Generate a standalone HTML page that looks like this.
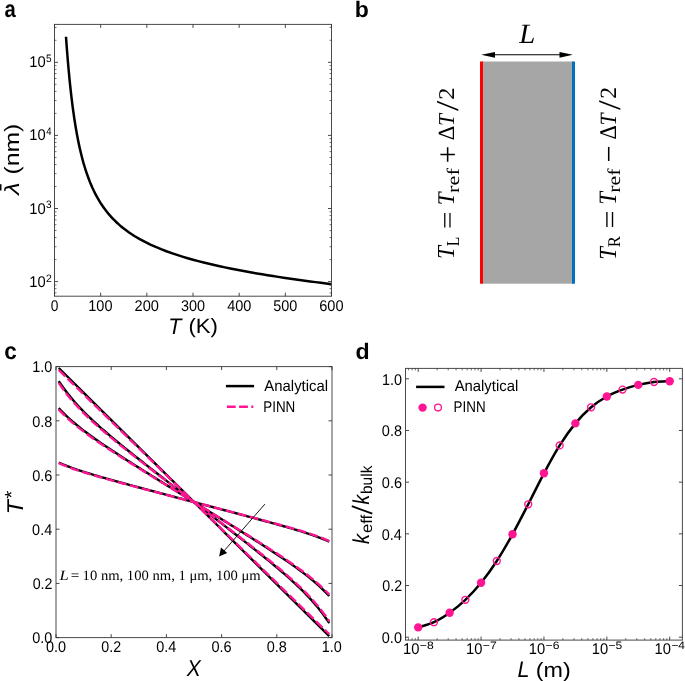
<!DOCTYPE html><html><head><meta charset="utf-8"><style>html,body{margin:0;padding:0;background:#fff}svg{display:block}</style></head><body>
<svg width="685" height="681" viewBox="0 0 685 681" style="text-rendering:geometricPrecision;will-change:transform">
<rect width="685" height="681" fill="#fff"/>
<path d="M66.00 36.73 L66.36 41.83 L66.73 46.77 L67.10 51.53 L67.46 56.13 L67.83 60.57 L68.20 64.85 L68.56 68.99 L68.93 72.98 L69.30 76.84 L69.66 80.57 L70.03 84.17 L70.40 87.65 L70.77 91.02 L71.13 94.27 L71.50 97.42 L71.87 100.47 L72.23 103.42 L72.60 106.28 L72.97 109.05 L74.27 118.23 L75.57 126.48 L76.87 133.95 L78.18 140.72 L79.48 146.91 L80.78 152.57 L82.08 157.77 L83.38 162.57 L84.69 167.01 L85.99 171.13 L87.29 174.96 L88.59 178.54 L89.89 181.89 L91.20 185.03 L92.50 187.98 L93.80 190.76 L95.10 193.38 L96.41 195.86 L97.71 198.21 L99.01 200.44 L100.31 202.55 L101.61 204.57 L102.92 206.49 L104.22 208.33 L105.52 210.08 L106.82 211.76 L108.12 213.36 L109.43 214.90 L110.73 216.38 L112.03 217.81 L113.33 219.18 L114.64 220.49 L115.94 221.76 L117.24 222.99 L118.54 224.18 L119.84 225.32 L121.15 226.43 L122.45 227.50 L123.75 228.54 L129.08 232.47 L134.40 235.97 L139.73 239.11 L145.06 241.96 L150.38 244.56 L155.71 246.95 L161.04 249.16 L166.37 251.21 L171.69 253.12 L177.02 254.91 L182.35 256.59 L187.67 258.18 L193.00 259.69 L198.33 261.12 L203.65 262.48 L208.98 263.78 L214.31 265.02 L219.63 266.21 L224.96 267.36 L230.29 268.46 L235.62 269.52 L240.94 270.54 L246.27 271.53 L251.60 272.49 L256.92 273.42 L262.25 274.32 L267.58 275.19 L272.90 276.04 L278.23 276.87 L283.56 277.68 L288.88 278.46 L294.21 279.23 L299.54 279.98 L304.87 280.71 L310.19 281.43 L315.52 282.13 L320.85 282.81 L326.17 283.49 L331.50 284.14" stroke="#000" stroke-width="2.5" fill="none" stroke-linejoin="round"/>
<rect x="54.50" y="24.40" width="277.00" height="271.80" fill="none" stroke="#4a4a4a" stroke-width="1.0"/>
<path d="M54.50 296.20v-3.5M54.50 24.40v3.5M100.67 296.20v-3.5M100.67 24.40v3.5M146.83 296.20v-3.5M146.83 24.40v3.5M193.00 296.20v-3.5M193.00 24.40v3.5M239.17 296.20v-3.5M239.17 24.40v3.5M285.33 296.20v-3.5M285.33 24.40v3.5M331.50 296.20v-3.5M331.50 24.40v3.5" stroke="#333" stroke-width="0.9" fill="none"/>
<path d="M54.50 281.60h3.5M331.50 281.60h-3.5M54.50 208.50h3.5M331.50 208.50h-3.5M54.50 135.40h3.5M331.50 135.40h-3.5M54.50 62.30h3.5M331.50 62.30h-3.5" stroke="#333" stroke-width="0.9" fill="none"/>
<path d="M54.50 292.92h2.0M331.50 292.92h-2.0M54.50 288.68h2.0M331.50 288.68h-2.0M54.50 284.94h2.0M331.50 284.94h-2.0M54.50 259.59h2.0M331.50 259.59h-2.0M54.50 246.72h2.0M331.50 246.72h-2.0M54.50 237.59h2.0M331.50 237.59h-2.0M54.50 230.51h2.0M331.50 230.51h-2.0M54.50 224.72h2.0M331.50 224.72h-2.0M54.50 219.82h2.0M331.50 219.82h-2.0M54.50 215.58h2.0M331.50 215.58h-2.0M54.50 211.84h2.0M331.50 211.84h-2.0M54.50 186.49h2.0M331.50 186.49h-2.0M54.50 173.62h2.0M331.50 173.62h-2.0M54.50 164.49h2.0M331.50 164.49h-2.0M54.50 157.41h2.0M331.50 157.41h-2.0M54.50 151.62h2.0M331.50 151.62h-2.0M54.50 146.72h2.0M331.50 146.72h-2.0M54.50 142.48h2.0M331.50 142.48h-2.0M54.50 138.74h2.0M331.50 138.74h-2.0M54.50 113.39h2.0M331.50 113.39h-2.0M54.50 100.52h2.0M331.50 100.52h-2.0M54.50 91.39h2.0M331.50 91.39h-2.0M54.50 84.31h2.0M331.50 84.31h-2.0M54.50 78.52h2.0M331.50 78.52h-2.0M54.50 73.62h2.0M331.50 73.62h-2.0M54.50 69.38h2.0M331.50 69.38h-2.0M54.50 65.64h2.0M331.50 65.64h-2.0M54.50 40.29h2.0M331.50 40.29h-2.0M54.50 27.42h2.0M331.50 27.42h-2.0" stroke="#333" stroke-width="0.7" fill="none"/>
<text x="50.67" y="310.50" style="font-family:'Liberation Sans', sans-serif;font-size:15.5px" fill="#000" textLength="7.65" lengthAdjust="spacingAndGlyphs">0</text>
<text x="88.32" y="310.50" style="font-family:'Liberation Sans', sans-serif;font-size:15.5px" fill="#000" textLength="24.17" lengthAdjust="spacingAndGlyphs">100</text>
<text x="134.60" y="310.50" style="font-family:'Liberation Sans', sans-serif;font-size:15.5px" fill="#000" textLength="24.30" lengthAdjust="spacingAndGlyphs">200</text>
<text x="180.97" y="310.50" style="font-family:'Liberation Sans', sans-serif;font-size:15.5px" fill="#000" textLength="24.07" lengthAdjust="spacingAndGlyphs">300</text>
<text x="227.19" y="310.50" style="font-family:'Liberation Sans', sans-serif;font-size:15.5px" fill="#000" textLength="24.19" lengthAdjust="spacingAndGlyphs">400</text>
<text x="273.28" y="310.50" style="font-family:'Liberation Sans', sans-serif;font-size:15.5px" fill="#000" textLength="24.08" lengthAdjust="spacingAndGlyphs">500</text>
<text x="319.25" y="310.50" style="font-family:'Liberation Sans', sans-serif;font-size:15.5px" fill="#000" textLength="24.33" lengthAdjust="spacingAndGlyphs">600</text>
<text x="29.19" y="286.60" style="font-family:'Liberation Sans', sans-serif;font-size:15.5px" fill="#000" textLength="16.39" lengthAdjust="spacingAndGlyphs">10</text>
<text x="45.97" y="281.50" style="font-family:'Liberation Sans', sans-serif;font-size:10.8px" fill="#000" textLength="5.87" lengthAdjust="spacingAndGlyphs">2</text>
<text x="29.19" y="213.50" style="font-family:'Liberation Sans', sans-serif;font-size:15.5px" fill="#000" textLength="16.39" lengthAdjust="spacingAndGlyphs">10</text>
<text x="46.12" y="208.40" style="font-family:'Liberation Sans', sans-serif;font-size:10.8px" fill="#000" textLength="5.62" lengthAdjust="spacingAndGlyphs">3</text>
<text x="29.19" y="140.40" style="font-family:'Liberation Sans', sans-serif;font-size:15.5px" fill="#000" textLength="16.39" lengthAdjust="spacingAndGlyphs">10</text>
<text x="46.29" y="135.30" style="font-family:'Liberation Sans', sans-serif;font-size:10.8px" fill="#000" textLength="5.29" lengthAdjust="spacingAndGlyphs">4</text>
<text x="29.19" y="67.30" style="font-family:'Liberation Sans', sans-serif;font-size:15.5px" fill="#000" textLength="16.39" lengthAdjust="spacingAndGlyphs">10</text>
<text x="46.10" y="62.20" style="font-family:'Liberation Sans', sans-serif;font-size:10.8px" fill="#000" textLength="5.62" lengthAdjust="spacingAndGlyphs">5</text>
<text x="168.36" y="333.60" style="font-family:'Liberation Sans', sans-serif;font-style:italic;font-size:22.4px" fill="#000" textLength="13.17" lengthAdjust="spacingAndGlyphs">T</text>
<text x="188.41" y="333.20" style="font-family:'Liberation Sans', sans-serif;font-size:20.8px" fill="#000" textLength="29.59" lengthAdjust="spacingAndGlyphs">(K)</text>
<text x="1.13" y="0.00" style="font-family:'Liberation Sans', sans-serif;font-style:italic;font-size:20.5px" fill="#000" textLength="12.34" lengthAdjust="spacingAndGlyphs" transform="translate(19.40,195.80) rotate(-90)">λ</text>
<text x="-1.54" y="0.00" style="font-family:'Liberation Sans', sans-serif;font-size:20.8px" fill="#000" textLength="50.79" lengthAdjust="spacingAndGlyphs" transform="translate(19.40,173.00) rotate(-90)">(nm)</text>
<rect x="0" y="184.2" width="1.5" height="6.3" fill="#000"/>
<rect x="481.5" y="61.5" width="92" height="222.2" fill="#A6A6A6"/>
<rect x="480" y="61.5" width="3" height="222.2" fill="#FF0000"/>
<rect x="572" y="61.5" width="3" height="222.2" fill="#0070C0"/>
<path d="M494.5 54.8H560" stroke="#000" stroke-width="1.1"/>
<path d="M481.2 54.8L495 51.9L495 57.7Z" fill="#000"/>
<path d="M572.8 54.8L559.5 51.9L559.5 57.7Z" fill="#000"/>
<text x="519.16" y="42.50" style="font-family:'Liberation Serif', serif;font-style:italic;font-size:28px" fill="#000" textLength="16.04" lengthAdjust="spacingAndGlyphs">L</text>
<text x="-1.51" y="0.00" style="font-family:'Liberation Serif', serif;font-style:italic;font-size:24.43px" fill="#000" textLength="12.94" lengthAdjust="spacingAndGlyphs" transform="translate(454.00,257.60) rotate(-90)">T</text>
<text x="-0.47" y="0.00" style="font-family:'Liberation Serif', serif;font-size:18.32px" fill="#000" textLength="9.52" lengthAdjust="spacingAndGlyphs" transform="translate(458.90,245.90) rotate(-90)">L</text>
<text x="-1.56" y="0.00" style="font-family:'Liberation Serif', serif;font-size:26.0px" fill="#000" textLength="17.59" lengthAdjust="spacingAndGlyphs" transform="translate(455.89,227.50) rotate(-90)">=</text>
<text x="-1.49" y="0.00" style="font-family:'Liberation Serif', serif;font-style:italic;font-size:23.97px" fill="#000" textLength="12.74" lengthAdjust="spacingAndGlyphs" transform="translate(453.90,203.70) rotate(-90)">T</text>
<text x="-0.45" y="0.00" style="font-family:'Liberation Serif', serif;font-size:17.62px" fill="#000" textLength="24.74" lengthAdjust="spacingAndGlyphs" transform="translate(458.92,192.50) rotate(-90)">ref</text>
<text x="-1.56" y="0.00" style="font-family:'Liberation Serif', serif;font-size:31.18px" fill="#000" textLength="17.59" lengthAdjust="spacingAndGlyphs" transform="translate(457.62,161.70) rotate(-90)">+</text>
<text x="-1.41" y="0.00" style="font-family:'Liberation Serif', serif;font-style:italic;font-size:22.75px" fill="#000" textLength="12.03" lengthAdjust="spacingAndGlyphs" transform="translate(453.70,124.60) rotate(-90)">T</text>
<text x="-0.85" y="0.00" style="font-family:'Liberation Serif', serif;font-size:23.18px" fill="#000" textLength="14.50" lengthAdjust="spacingAndGlyphs" transform="translate(453.70,139.50) rotate(-90)">Δ</text>
<text x="0.00" y="0.00" style="font-family:'Liberation Serif', serif;font-size:31.79px" fill="#000" textLength="10.31" lengthAdjust="spacingAndGlyphs" transform="translate(458.48,111.00) rotate(-90)">/</text>
<text x="-1.10" y="0.00" style="font-family:'Liberation Serif', serif;font-size:22.49px" fill="#000" textLength="12.25" lengthAdjust="spacingAndGlyphs" transform="translate(454.10,98.60) rotate(-90)">2</text>
<text x="-1.48" y="0.00" style="font-family:'Liberation Serif', serif;font-style:italic;font-size:24.58px" fill="#000" textLength="12.64" lengthAdjust="spacingAndGlyphs" transform="translate(615.60,258.40) rotate(-90)">T</text>
<text x="-0.50" y="0.00" style="font-family:'Liberation Serif', serif;font-size:17.86px" fill="#000" textLength="11.13" lengthAdjust="spacingAndGlyphs" transform="translate(620.20,246.70) rotate(-90)">R</text>
<text x="-1.59" y="0.00" style="font-family:'Liberation Serif', serif;font-size:28.0px" fill="#000" textLength="17.95" lengthAdjust="spacingAndGlyphs" transform="translate(618.61,226.90) rotate(-90)">=</text>
<text x="-1.49" y="0.00" style="font-family:'Liberation Serif', serif;font-style:italic;font-size:25.04px" fill="#000" textLength="12.74" lengthAdjust="spacingAndGlyphs" transform="translate(615.80,203.20) rotate(-90)">T</text>
<text x="-0.43" y="0.00" style="font-family:'Liberation Serif', serif;font-size:18.04px" fill="#000" textLength="24.13" lengthAdjust="spacingAndGlyphs" transform="translate(620.22,192.30) rotate(-90)">ref</text>
<text x="-1.52" y="0.00" style="font-family:'Liberation Serif', serif;font-size:31px" fill="#000" textLength="17.10" lengthAdjust="spacingAndGlyphs" transform="translate(619.31,160.90) rotate(-90)">−</text>
<text x="-1.41" y="0.00" style="font-family:'Liberation Serif', serif;font-style:italic;font-size:23.36px" fill="#000" textLength="12.03" lengthAdjust="spacingAndGlyphs" transform="translate(616.00,124.10) rotate(-90)">T</text>
<text x="-0.84" y="0.00" style="font-family:'Liberation Serif', serif;font-size:23.94px" fill="#000" textLength="14.39" lengthAdjust="spacingAndGlyphs" transform="translate(615.60,138.60) rotate(-90)">Δ</text>
<text x="0.00" y="0.00" style="font-family:'Liberation Serif', serif;font-size:31.64px" fill="#000" textLength="9.81" lengthAdjust="spacingAndGlyphs" transform="translate(619.88,110.10) rotate(-90)">/</text>
<text x="-1.06" y="0.00" style="font-family:'Liberation Serif', serif;font-size:23.25px" fill="#000" textLength="11.75" lengthAdjust="spacingAndGlyphs" transform="translate(615.60,97.80) rotate(-90)">2</text>
<clipPath id="cc"><rect x="56.0" y="363.6" width="276.0" height="277.0"/></clipPath>
<g clip-path="url(#cc)">
<path d="M58.76 367.98 L61.03 370.24 L63.31 372.49 L65.58 374.74 L67.85 377.00 L70.12 379.25 L72.40 381.51 L74.67 383.76 L76.94 386.01 L79.22 388.27 L81.49 390.52 L83.76 392.78 L86.04 395.03 L88.31 397.29 L90.58 399.54 L92.85 401.79 L95.13 404.05 L97.40 406.30 L99.67 408.56 L101.95 410.81 L104.22 413.06 L106.49 415.32 L108.76 417.57 L111.04 419.83 L113.31 422.08 L115.58 424.33 L117.86 426.59 L120.13 428.84 L122.40 431.10 L124.68 433.35 L126.95 435.60 L129.22 437.86 L131.49 440.11 L133.77 442.37 L136.04 444.62 L138.31 446.87 L140.59 449.13 L142.86 451.38 L145.13 453.64 L147.40 455.89 L149.68 458.15 L151.95 460.40 L154.22 462.65 L156.50 464.91 L158.77 467.16 L161.04 469.42 L163.32 471.67 L165.59 473.92 L167.86 476.18 L170.13 478.43 L172.41 480.69 L174.68 482.94 L176.95 485.19 L179.23 487.45 L181.50 489.70 L183.77 491.96 L186.04 494.21 L188.32 496.46 L190.59 498.72 L192.86 500.97 L195.14 503.23 L197.41 505.48 L199.68 507.74 L201.96 509.99 L204.23 512.24 L206.50 514.50 L208.77 516.75 L211.05 519.01 L213.32 521.26 L215.59 523.51 L217.87 525.77 L220.14 528.02 L222.41 530.28 L224.68 532.53 L226.96 534.78 L229.23 537.04 L231.50 539.29 L233.78 541.55 L236.05 543.80 L238.32 546.05 L240.60 548.31 L242.87 550.56 L245.14 552.82 L247.41 555.07 L249.69 557.33 L251.96 559.58 L254.23 561.83 L256.51 564.09 L258.78 566.34 L261.05 568.60 L263.32 570.85 L265.60 573.10 L267.87 575.36 L270.14 577.61 L272.42 579.87 L274.69 582.12 L276.96 584.37 L279.24 586.63 L281.51 588.88 L283.78 591.14 L286.05 593.39 L288.33 595.64 L290.60 597.90 L292.87 600.15 L295.15 602.41 L297.42 604.66 L299.69 606.91 L301.96 609.17 L304.24 611.42 L306.51 613.68 L308.78 615.93 L311.06 618.19 L313.33 620.44 L315.60 622.69 L317.88 624.95 L320.15 627.20 L322.42 629.46 L324.69 631.71 L326.97 633.96 L329.24 636.22" stroke="#000" stroke-width="2.4" fill="none" stroke-linejoin="round"/>
<path d="M58.76 381.12 L61.03 384.51 L63.31 387.74 L65.58 390.82 L67.85 393.78 L70.12 396.61 L72.40 399.34 L74.67 401.98 L76.94 404.53 L79.22 407.00 L81.49 409.40 L83.76 411.74 L86.04 414.02 L88.31 416.24 L90.58 418.43 L92.85 420.57 L95.13 422.67 L97.40 424.73 L99.67 426.77 L101.95 428.78 L104.22 430.76 L106.49 432.72 L108.76 434.66 L111.04 436.59 L113.31 438.49 L115.58 440.38 L117.86 442.26 L120.13 444.12 L122.40 445.98 L124.68 447.82 L126.95 449.66 L129.22 451.48 L131.49 453.30 L133.77 455.12 L136.04 456.92 L138.31 458.72 L140.59 460.52 L142.86 462.31 L145.13 464.10 L147.40 465.89 L149.68 467.67 L151.95 469.45 L154.22 471.23 L156.50 473.00 L158.77 474.77 L161.04 476.54 L163.32 478.31 L165.59 480.08 L167.86 481.84 L170.13 483.61 L172.41 485.37 L174.68 487.14 L176.95 488.90 L179.23 490.66 L181.50 492.42 L183.77 494.18 L186.04 495.94 L188.32 497.70 L190.59 499.46 L192.86 501.22 L195.14 502.98 L197.41 504.74 L199.68 506.50 L201.96 508.26 L204.23 510.02 L206.50 511.78 L208.77 513.54 L211.05 515.30 L213.32 517.06 L215.59 518.83 L217.87 520.59 L220.14 522.36 L222.41 524.12 L224.68 525.89 L226.96 527.66 L229.23 529.43 L231.50 531.20 L233.78 532.97 L236.05 534.75 L238.32 536.53 L240.60 538.31 L242.87 540.10 L245.14 541.89 L247.41 543.68 L249.69 545.48 L251.96 547.28 L254.23 549.08 L256.51 550.90 L258.78 552.72 L261.05 554.54 L263.32 556.38 L265.60 558.22 L267.87 560.08 L270.14 561.94 L272.42 563.82 L274.69 565.71 L276.96 567.61 L279.24 569.54 L281.51 571.48 L283.78 573.44 L286.05 575.42 L288.33 577.43 L290.60 579.47 L292.87 581.53 L295.15 583.63 L297.42 585.77 L299.69 587.96 L301.96 590.18 L304.24 592.46 L306.51 594.80 L308.78 597.20 L311.06 599.67 L313.33 602.22 L315.60 604.86 L317.88 607.59 L320.15 610.42 L322.42 613.38 L324.69 616.46 L326.97 619.69 L329.24 623.08" stroke="#000" stroke-width="2.4" fill="none" stroke-linejoin="round"/>
<path d="M58.76 408.16 L61.03 410.57 L63.31 412.88 L65.58 415.11 L67.85 417.25 L70.12 419.33 L72.40 421.33 L74.67 423.28 L76.94 425.18 L79.22 427.02 L81.49 428.83 L83.76 430.59 L86.04 432.32 L88.31 434.02 L90.58 435.69 L92.85 437.34 L95.13 438.96 L97.40 440.56 L99.67 442.14 L101.95 443.70 L104.22 445.25 L106.49 446.79 L108.76 448.31 L111.04 449.82 L113.31 451.32 L115.58 452.81 L117.86 454.29 L120.13 455.77 L122.40 457.24 L124.68 458.70 L126.95 460.15 L129.22 461.61 L131.49 463.05 L133.77 464.50 L136.04 465.94 L138.31 467.37 L140.59 468.81 L142.86 470.24 L145.13 471.67 L147.40 473.09 L149.68 474.52 L151.95 475.94 L154.22 477.36 L156.50 478.78 L158.77 480.20 L161.04 481.62 L163.32 483.03 L165.59 484.45 L167.86 485.86 L170.13 487.28 L172.41 488.69 L174.68 490.10 L176.95 491.52 L179.23 492.93 L181.50 494.34 L183.77 495.75 L186.04 497.16 L188.32 498.57 L190.59 499.98 L192.86 501.39 L195.14 502.81 L197.41 504.22 L199.68 505.63 L201.96 507.04 L204.23 508.45 L206.50 509.86 L208.77 511.27 L211.05 512.68 L213.32 514.10 L215.59 515.51 L217.87 516.92 L220.14 518.34 L222.41 519.75 L224.68 521.17 L226.96 522.58 L229.23 524.00 L231.50 525.42 L233.78 526.84 L236.05 528.26 L238.32 529.68 L240.60 531.11 L242.87 532.53 L245.14 533.96 L247.41 535.39 L249.69 536.83 L251.96 538.26 L254.23 539.70 L256.51 541.15 L258.78 542.59 L261.05 544.05 L263.32 545.50 L265.60 546.96 L267.87 548.43 L270.14 549.91 L272.42 551.39 L274.69 552.88 L276.96 554.38 L279.24 555.89 L281.51 557.41 L283.78 558.95 L286.05 560.50 L288.33 562.06 L290.60 563.64 L292.87 565.24 L295.15 566.86 L297.42 568.51 L299.69 570.18 L301.96 571.88 L304.24 573.61 L306.51 575.37 L308.78 577.18 L311.06 579.02 L313.33 580.92 L315.60 582.87 L317.88 584.87 L320.15 586.95 L322.42 589.09 L324.69 591.32 L326.97 593.63 L329.24 596.04" stroke="#000" stroke-width="2.4" fill="none" stroke-linejoin="round"/>
<path d="M58.76 462.49 L61.03 463.51 L63.31 464.48 L65.58 465.41 L67.85 466.31 L70.12 467.17 L72.40 468.01 L74.67 468.82 L76.94 469.60 L79.22 470.37 L81.49 471.11 L83.76 471.84 L86.04 472.56 L88.31 473.27 L90.58 473.96 L92.85 474.64 L95.13 475.32 L97.40 475.98 L99.67 476.64 L101.95 477.29 L104.22 477.94 L106.49 478.58 L108.76 479.22 L111.04 479.85 L113.31 480.49 L115.58 481.11 L117.86 481.74 L120.13 482.36 L122.40 482.98 L124.68 483.60 L126.95 484.21 L129.22 484.83 L131.49 485.44 L133.77 486.05 L136.04 486.67 L138.31 487.28 L140.59 487.89 L142.86 488.49 L145.13 489.10 L147.40 489.71 L149.68 490.32 L151.95 490.92 L154.22 491.53 L156.50 492.13 L158.77 492.74 L161.04 493.34 L163.32 493.95 L165.59 494.55 L167.86 495.16 L170.13 495.76 L172.41 496.37 L174.68 496.97 L176.95 497.57 L179.23 498.18 L181.50 498.78 L183.77 499.38 L186.04 499.99 L188.32 500.59 L190.59 501.19 L192.86 501.80 L195.14 502.40 L197.41 503.01 L199.68 503.61 L201.96 504.21 L204.23 504.82 L206.50 505.42 L208.77 506.02 L211.05 506.63 L213.32 507.23 L215.59 507.83 L217.87 508.44 L220.14 509.04 L222.41 509.65 L224.68 510.25 L226.96 510.86 L229.23 511.46 L231.50 512.07 L233.78 512.67 L236.05 513.28 L238.32 513.88 L240.60 514.49 L242.87 515.10 L245.14 515.71 L247.41 516.31 L249.69 516.92 L251.96 517.53 L254.23 518.15 L256.51 518.76 L258.78 519.37 L261.05 519.99 L263.32 520.60 L265.60 521.22 L267.87 521.84 L270.14 522.46 L272.42 523.09 L274.69 523.71 L276.96 524.35 L279.24 524.98 L281.51 525.62 L283.78 526.26 L286.05 526.91 L288.33 527.56 L290.60 528.22 L292.87 528.88 L295.15 529.56 L297.42 530.24 L299.69 530.93 L301.96 531.64 L304.24 532.36 L306.51 533.09 L308.78 533.83 L311.06 534.60 L313.33 535.38 L315.60 536.19 L317.88 537.03 L320.15 537.89 L322.42 538.79 L324.69 539.72 L326.97 540.69 L329.24 541.71" stroke="#000" stroke-width="2.4" fill="none" stroke-linejoin="round"/>
<path d="M58.76 369.99 L61.03 372.21 L63.31 374.43 L65.58 376.65 L67.85 378.87 L70.12 381.10 L72.40 383.32 L74.67 385.54 L76.94 387.76 L79.22 389.98 L81.49 392.20 L83.76 394.42 L86.04 396.64 L88.31 398.86 L90.58 401.08 L92.85 403.30 L95.13 405.52 L97.40 407.74 L99.67 409.96 L101.95 412.18 L104.22 414.40 L106.49 416.62 L108.76 418.84 L111.04 421.06 L113.31 423.28 L115.58 425.50 L117.86 427.72 L120.13 429.94 L122.40 432.16 L124.68 434.38 L126.95 436.60 L129.22 438.82 L131.49 441.04 L133.77 443.26 L136.04 445.48 L138.31 447.70 L140.59 449.92 L142.86 452.14 L145.13 454.36 L147.40 456.58 L149.68 458.80 L151.95 461.02 L154.22 463.25 L156.50 465.47 L158.77 467.69 L161.04 469.91 L163.32 472.13 L165.59 474.35 L167.86 476.57 L170.13 478.79 L172.41 481.01 L174.68 483.23 L176.95 485.45 L179.23 487.67 L181.50 489.89 L183.77 492.11 L186.04 494.33 L188.32 496.55 L190.59 498.77 L192.86 500.99 L195.14 503.21 L197.41 505.43 L199.68 507.65 L201.96 509.87 L204.23 512.09 L206.50 514.31 L208.77 516.53 L211.05 518.75 L213.32 520.97 L215.59 523.19 L217.87 525.41 L220.14 527.63 L222.41 529.85 L224.68 532.07 L226.96 534.29 L229.23 536.51 L231.50 538.73 L233.78 540.95 L236.05 543.18 L238.32 545.40 L240.60 547.62 L242.87 549.84 L245.14 552.06 L247.41 554.28 L249.69 556.50 L251.96 558.72 L254.23 560.94 L256.51 563.16 L258.78 565.38 L261.05 567.60 L263.32 569.82 L265.60 572.04 L267.87 574.26 L270.14 576.48 L272.42 578.70 L274.69 580.92 L276.96 583.14 L279.24 585.36 L281.51 587.58 L283.78 589.80 L286.05 592.02 L288.33 594.24 L290.60 596.46 L292.87 598.68 L295.15 600.90 L297.42 603.12 L299.69 605.34 L301.96 607.56 L304.24 609.78 L306.51 612.00 L308.78 614.22 L311.06 616.44 L313.33 618.66 L315.60 620.88 L317.88 623.10 L320.15 625.33 L322.42 627.55 L324.69 629.77 L326.97 631.99 L329.24 634.21" stroke="#FF1493" stroke-width="2.4" fill="none" stroke-dasharray="9.0 3.4" stroke-linejoin="round"/>
<path d="M58.76 382.93 L61.03 386.27 L63.31 389.45 L65.58 392.49 L67.85 395.40 L70.12 398.20 L72.40 400.89 L74.67 403.48 L76.94 405.99 L79.22 408.43 L81.49 410.79 L83.76 413.09 L86.04 415.34 L88.31 417.53 L90.58 419.68 L92.85 421.79 L95.13 423.86 L97.40 425.89 L99.67 427.90 L101.95 429.88 L104.22 431.83 L106.49 433.76 L108.76 435.68 L111.04 437.57 L113.31 439.45 L115.58 441.31 L117.86 443.16 L120.13 444.99 L122.40 446.82 L124.68 448.64 L126.95 450.44 L129.22 452.24 L131.49 454.03 L133.77 455.82 L136.04 457.60 L138.31 459.38 L140.59 461.14 L142.86 462.91 L145.13 464.67 L147.40 466.43 L149.68 468.19 L151.95 469.94 L154.22 471.69 L156.50 473.44 L158.77 475.18 L161.04 476.93 L163.32 478.67 L165.59 480.41 L167.86 482.15 L170.13 483.89 L172.41 485.62 L174.68 487.36 L176.95 489.10 L179.23 490.83 L181.50 492.57 L183.77 494.30 L186.04 496.03 L188.32 497.77 L190.59 499.50 L192.86 501.23 L195.14 502.97 L197.41 504.70 L199.68 506.43 L201.96 508.17 L204.23 509.90 L206.50 511.63 L208.77 513.37 L211.05 515.10 L213.32 516.84 L215.59 518.58 L217.87 520.31 L220.14 522.05 L222.41 523.79 L224.68 525.53 L226.96 527.27 L229.23 529.02 L231.50 530.76 L233.78 532.51 L236.05 534.26 L238.32 536.01 L240.60 537.77 L242.87 539.53 L245.14 541.29 L247.41 543.06 L249.69 544.82 L251.96 546.60 L254.23 548.38 L256.51 550.17 L258.78 551.96 L261.05 553.76 L263.32 555.56 L265.60 557.38 L267.87 559.21 L270.14 561.04 L272.42 562.89 L274.69 564.75 L276.96 566.63 L279.24 568.52 L281.51 570.44 L283.78 572.37 L286.05 574.32 L288.33 576.30 L290.60 578.31 L292.87 580.34 L295.15 582.41 L297.42 584.52 L299.69 586.67 L301.96 588.86 L304.24 591.11 L306.51 593.41 L308.78 595.77 L311.06 598.21 L313.33 600.72 L315.60 603.31 L317.88 606.00 L320.15 608.80 L322.42 611.71 L324.69 614.75 L326.97 617.93 L329.24 621.27" stroke="#FF1493" stroke-width="2.4" fill="none" stroke-dasharray="9.0 3.4" stroke-linejoin="round"/>
<path d="M58.76 409.57 L61.03 411.94 L63.31 414.22 L65.58 416.41 L67.85 418.53 L70.12 420.57 L72.40 422.54 L74.67 424.46 L76.94 426.33 L79.22 428.15 L81.49 429.93 L83.76 431.67 L86.04 433.37 L88.31 435.04 L90.58 436.69 L92.85 438.31 L95.13 439.91 L97.40 441.48 L99.67 443.04 L101.95 444.58 L104.22 446.10 L106.49 447.61 L108.76 449.11 L111.04 450.60 L113.31 452.08 L115.58 453.55 L117.86 455.01 L120.13 456.46 L122.40 457.91 L124.68 459.35 L126.95 460.78 L129.22 462.21 L131.49 463.64 L133.77 465.06 L136.04 466.48 L138.31 467.90 L140.59 469.31 L142.86 470.72 L145.13 472.12 L147.40 473.53 L149.68 474.93 L151.95 476.33 L154.22 477.73 L156.50 479.13 L158.77 480.53 L161.04 481.93 L163.32 483.32 L165.59 484.71 L167.86 486.11 L170.13 487.50 L172.41 488.89 L174.68 490.28 L176.95 491.68 L179.23 493.07 L181.50 494.46 L183.77 495.85 L186.04 497.24 L188.32 498.63 L190.59 500.02 L192.86 501.41 L195.14 502.79 L197.41 504.18 L199.68 505.57 L201.96 506.96 L204.23 508.35 L206.50 509.74 L208.77 511.13 L211.05 512.52 L213.32 513.92 L215.59 515.31 L217.87 516.70 L220.14 518.09 L222.41 519.49 L224.68 520.88 L226.96 522.27 L229.23 523.67 L231.50 525.07 L233.78 526.47 L236.05 527.87 L238.32 529.27 L240.60 530.67 L242.87 532.08 L245.14 533.48 L247.41 534.89 L249.69 536.30 L251.96 537.72 L254.23 539.14 L256.51 540.56 L258.78 541.99 L261.05 543.42 L263.32 544.85 L265.60 546.29 L267.87 547.74 L270.14 549.19 L272.42 550.65 L274.69 552.12 L276.96 553.60 L279.24 555.09 L281.51 556.59 L283.78 558.10 L286.05 559.62 L288.33 561.16 L290.60 562.72 L292.87 564.29 L295.15 565.89 L297.42 567.51 L299.69 569.16 L301.96 570.83 L304.24 572.53 L306.51 574.27 L308.78 576.05 L311.06 577.87 L313.33 579.74 L315.60 581.66 L317.88 583.63 L320.15 585.67 L322.42 587.79 L324.69 589.98 L326.97 592.26 L329.24 594.63" stroke="#FF1493" stroke-width="2.4" fill="none" stroke-dasharray="9.0 3.4" stroke-linejoin="round"/>
<path d="M58.76 463.08 L61.03 464.09 L63.31 465.05 L65.58 465.96 L67.85 466.85 L70.12 467.70 L72.40 468.52 L74.67 469.31 L76.94 470.09 L79.22 470.84 L81.49 471.58 L83.76 472.30 L86.04 473.00 L88.31 473.70 L90.58 474.38 L92.85 475.05 L95.13 475.72 L97.40 476.37 L99.67 477.02 L101.95 477.67 L104.22 478.30 L106.49 478.94 L108.76 479.56 L111.04 480.19 L113.31 480.81 L115.58 481.43 L117.86 482.04 L120.13 482.66 L122.40 483.27 L124.68 483.88 L126.95 484.48 L129.22 485.09 L131.49 485.69 L133.77 486.30 L136.04 486.90 L138.31 487.50 L140.59 488.10 L142.86 488.70 L145.13 489.30 L147.40 489.90 L149.68 490.49 L151.95 491.09 L154.22 491.69 L156.50 492.28 L158.77 492.88 L161.04 493.48 L163.32 494.07 L165.59 494.67 L167.86 495.26 L170.13 495.86 L172.41 496.45 L174.68 497.05 L176.95 497.64 L179.23 498.24 L181.50 498.83 L183.77 499.43 L186.04 500.02 L188.32 500.61 L190.59 501.21 L192.86 501.80 L195.14 502.40 L197.41 502.99 L199.68 503.59 L201.96 504.18 L204.23 504.77 L206.50 505.37 L208.77 505.96 L211.05 506.56 L213.32 507.15 L215.59 507.75 L217.87 508.34 L220.14 508.94 L222.41 509.53 L224.68 510.13 L226.96 510.72 L229.23 511.32 L231.50 511.92 L233.78 512.51 L236.05 513.11 L238.32 513.71 L240.60 514.30 L242.87 514.90 L245.14 515.50 L247.41 516.10 L249.69 516.70 L251.96 517.30 L254.23 517.90 L256.51 518.51 L258.78 519.11 L261.05 519.72 L263.32 520.32 L265.60 520.93 L267.87 521.54 L270.14 522.16 L272.42 522.77 L274.69 523.39 L276.96 524.01 L279.24 524.64 L281.51 525.26 L283.78 525.90 L286.05 526.53 L288.33 527.18 L290.60 527.83 L292.87 528.48 L295.15 529.15 L297.42 529.82 L299.69 530.50 L301.96 531.20 L304.24 531.90 L306.51 532.62 L308.78 533.36 L311.06 534.11 L313.33 534.89 L315.60 535.68 L317.88 536.50 L320.15 537.35 L322.42 538.24 L324.69 539.15 L326.97 540.11 L329.24 541.12" stroke="#FF1493" stroke-width="2.4" fill="none" stroke-dasharray="9.0 3.4" stroke-linejoin="round"/>
</g>
<path d="M264.9 504.1L223.5 551.5" stroke="#000" stroke-width="0.9"/>
<path d="M219.1 556.6L221.0 547.6L227.2 553.0Z" fill="#000"/>
<rect x="56.00" y="366.60" width="276.00" height="271.00" fill="none" stroke="#4a4a4a" stroke-width="1.0"/>
<path d="M56.00 637.60v-3.5M56.00 366.60v3.5M111.20 637.60v-3.5M111.20 366.60v3.5M166.40 637.60v-3.5M166.40 366.60v3.5M221.60 637.60v-3.5M221.60 366.60v3.5M276.80 637.60v-3.5M276.80 366.60v3.5M332.00 637.60v-3.5M332.00 366.60v3.5" stroke="#333" stroke-width="0.9" fill="none"/>
<path d="M56.00 637.60h3.5M332.00 637.60h-3.5M56.00 583.40h3.5M332.00 583.40h-3.5M56.00 529.20h3.5M332.00 529.20h-3.5M56.00 475.00h3.5M332.00 475.00h-3.5M56.00 420.80h3.5M332.00 420.80h-3.5M56.00 366.60h3.5M332.00 366.60h-3.5" stroke="#333" stroke-width="0.9" fill="none"/>
<text x="45.93" y="652.00" style="font-family:'Liberation Sans', sans-serif;font-size:15.5px" fill="#000" textLength="20.10" lengthAdjust="spacingAndGlyphs">0.0</text>
<text x="32.24" y="643.40" style="font-family:'Liberation Sans', sans-serif;font-size:15.5px" fill="#000" textLength="20.10" lengthAdjust="spacingAndGlyphs">0.0</text>
<text x="101.37" y="652.00" style="font-family:'Liberation Sans', sans-serif;font-size:15.5px" fill="#000" textLength="19.81" lengthAdjust="spacingAndGlyphs">0.2</text>
<text x="32.70" y="589.20" style="font-family:'Liberation Sans', sans-serif;font-size:15.5px" fill="#000" textLength="19.81" lengthAdjust="spacingAndGlyphs">0.2</text>
<text x="156.27" y="652.00" style="font-family:'Liberation Sans', sans-serif;font-size:15.5px" fill="#000" textLength="20.09" lengthAdjust="spacingAndGlyphs">0.4</text>
<text x="32.11" y="535.00" style="font-family:'Liberation Sans', sans-serif;font-size:15.5px" fill="#000" textLength="20.09" lengthAdjust="spacingAndGlyphs">0.4</text>
<text x="211.51" y="652.00" style="font-family:'Liberation Sans', sans-serif;font-size:15.5px" fill="#000" textLength="20.21" lengthAdjust="spacingAndGlyphs">0.6</text>
<text x="32.21" y="480.80" style="font-family:'Liberation Sans', sans-serif;font-size:15.5px" fill="#000" textLength="20.21" lengthAdjust="spacingAndGlyphs">0.6</text>
<text x="266.75" y="652.00" style="font-family:'Liberation Sans', sans-serif;font-size:15.5px" fill="#000" textLength="20.15" lengthAdjust="spacingAndGlyphs">0.8</text>
<text x="32.27" y="426.60" style="font-family:'Liberation Sans', sans-serif;font-size:15.5px" fill="#000" textLength="20.15" lengthAdjust="spacingAndGlyphs">0.8</text>
<text x="321.72" y="652.00" style="font-family:'Liberation Sans', sans-serif;font-size:15.5px" fill="#000" textLength="20.02" lengthAdjust="spacingAndGlyphs">1.0</text>
<text x="32.33" y="372.40" style="font-family:'Liberation Sans', sans-serif;font-size:15.5px" fill="#000" textLength="20.02" lengthAdjust="spacingAndGlyphs">1.0</text>
<path d="M225.9 386.1H254.1" stroke="#000" stroke-width="2.5"/>
<path d="M226.9 406.7H253.3" stroke="#FF1493" stroke-width="2.5" stroke-dasharray="8.8 3.4"/>
<text x="264.36" y="390.60" style="font-family:'Liberation Sans', sans-serif;font-size:15.5px" fill="#000" textLength="63.74" lengthAdjust="spacingAndGlyphs">Analytical</text>
<text x="263.30" y="411.50" style="font-family:'Liberation Sans', sans-serif;font-size:15.5px" fill="#000" textLength="32.00" lengthAdjust="spacingAndGlyphs">PINN</text>
<text x="59.61" y="579.50" style="font-family:'Liberation Serif', serif;font-style:italic;font-size:14.2px" fill="#000" textLength="9.20" lengthAdjust="spacingAndGlyphs">L</text>
<text x="70.84" y="579.50" style="font-family:'Liberation Serif', serif;font-size:14.2px" fill="#000" textLength="8.61" lengthAdjust="spacingAndGlyphs">=</text>
<text x="82.62" y="579.50" style="font-family:'Liberation Serif', serif;font-size:14.2px" fill="#000" textLength="178.12" lengthAdjust="spacingAndGlyphs">10 nm, 100 nm, 1 μm, 100 μm</text>
<text x="186.77" y="676.00" style="font-family:'Liberation Sans', sans-serif;font-style:italic;font-size:22.9px" fill="#000" textLength="13.99" lengthAdjust="spacingAndGlyphs">X</text>
<text x="-2.09" y="0.00" style="font-family:'Liberation Sans', sans-serif;font-style:italic;font-size:22.8px" fill="#000" textLength="14.22" lengthAdjust="spacingAndGlyphs" transform="translate(23.00,512.10) rotate(-90)">T</text>
<text x="-0.35" y="0.00" style="font-family:'Liberation Sans', sans-serif;font-size:19px" fill="#000" textLength="7.78" lengthAdjust="spacingAndGlyphs" transform="translate(17.90,498.20) rotate(-90)">*</text>
<path d="M418.20 627.40 C420.82 626.53 428.68 624.65 433.92 622.20 C439.16 619.75 444.40 616.43 449.64 612.70 C454.88 608.97 460.12 604.78 465.36 599.80 C470.60 594.82 475.84 589.27 481.07 582.80 C486.31 576.33 491.55 569.08 496.79 561.00 C502.03 552.92 507.27 543.75 512.51 534.30 C517.75 524.85 522.99 514.47 528.23 504.30 C533.47 494.13 538.71 483.12 543.95 473.30 C549.19 463.48 554.43 453.72 559.67 445.40 C564.91 437.08 570.15 429.75 575.39 423.40 C580.63 417.05 585.87 411.78 591.11 407.30 C596.35 402.82 601.59 399.45 606.83 396.50 C612.06 393.55 617.30 391.53 622.54 389.60 C627.78 387.67 633.02 386.17 638.26 384.90 C643.50 383.63 648.74 382.62 653.98 382.00 C659.22 381.38 667.08 381.33 669.70 381.20" stroke="#000" stroke-width="2.5" fill="none"/>
<circle cx="418.20" cy="627.40" r="4.2" fill="#FF1493"/>
<circle cx="433.92" cy="622.20" r="3.45" fill="none" stroke="#FF1493" stroke-width="1.4"/>
<circle cx="449.64" cy="612.70" r="4.2" fill="#FF1493"/>
<circle cx="465.36" cy="599.80" r="3.45" fill="none" stroke="#FF1493" stroke-width="1.4"/>
<circle cx="481.07" cy="582.80" r="4.2" fill="#FF1493"/>
<circle cx="496.79" cy="561.00" r="3.45" fill="none" stroke="#FF1493" stroke-width="1.4"/>
<circle cx="512.51" cy="534.30" r="4.2" fill="#FF1493"/>
<circle cx="528.23" cy="504.30" r="3.45" fill="none" stroke="#FF1493" stroke-width="1.4"/>
<circle cx="543.95" cy="473.30" r="4.2" fill="#FF1493"/>
<circle cx="559.67" cy="445.40" r="3.45" fill="none" stroke="#FF1493" stroke-width="1.4"/>
<circle cx="575.39" cy="423.40" r="4.2" fill="#FF1493"/>
<circle cx="591.11" cy="407.30" r="3.45" fill="none" stroke="#FF1493" stroke-width="1.4"/>
<circle cx="606.83" cy="396.50" r="4.2" fill="#FF1493"/>
<circle cx="622.54" cy="389.60" r="3.45" fill="none" stroke="#FF1493" stroke-width="1.4"/>
<circle cx="638.26" cy="384.90" r="4.2" fill="#FF1493"/>
<circle cx="653.98" cy="382.00" r="3.45" fill="none" stroke="#FF1493" stroke-width="1.4"/>
<circle cx="669.70" cy="381.20" r="4.2" fill="#FF1493"/>
<rect x="405.50" y="368.40" width="276.90" height="271.70" fill="none" stroke="#4a4a4a" stroke-width="1.0"/>
<path d="M418.20 640.10v-3.5M418.20 368.40v3.5M481.07 640.10v-3.5M481.07 368.40v3.5M543.95 640.10v-3.5M543.95 368.40v3.5M606.83 640.10v-3.5M606.83 368.40v3.5M669.70 640.10v-3.5M669.70 368.40v3.5" stroke="#333" stroke-width="0.9" fill="none"/>
<path d="M408.46 640.10v-2.0M408.46 368.40v2.0M412.11 640.10v-2.0M412.11 368.40v2.0M415.32 640.10v-2.0M415.32 368.40v2.0M437.13 640.10v-2.0M437.13 368.40v2.0M448.20 640.10v-2.0M448.20 368.40v2.0M456.05 640.10v-2.0M456.05 368.40v2.0M462.15 640.10v-2.0M462.15 368.40v2.0M467.13 640.10v-2.0M467.13 368.40v2.0M471.34 640.10v-2.0M471.34 368.40v2.0M474.98 640.10v-2.0M474.98 368.40v2.0M478.20 640.10v-2.0M478.20 368.40v2.0M500.00 640.10v-2.0M500.00 368.40v2.0M511.07 640.10v-2.0M511.07 368.40v2.0M518.93 640.10v-2.0M518.93 368.40v2.0M525.02 640.10v-2.0M525.02 368.40v2.0M530.00 640.10v-2.0M530.00 368.40v2.0M534.21 640.10v-2.0M534.21 368.40v2.0M537.86 640.10v-2.0M537.86 368.40v2.0M541.07 640.10v-2.0M541.07 368.40v2.0M562.88 640.10v-2.0M562.88 368.40v2.0M573.95 640.10v-2.0M573.95 368.40v2.0M581.80 640.10v-2.0M581.80 368.40v2.0M587.90 640.10v-2.0M587.90 368.40v2.0M592.88 640.10v-2.0M592.88 368.40v2.0M597.09 640.10v-2.0M597.09 368.40v2.0M600.73 640.10v-2.0M600.73 368.40v2.0M603.95 640.10v-2.0M603.95 368.40v2.0M625.75 640.10v-2.0M625.75 368.40v2.0M636.82 640.10v-2.0M636.82 368.40v2.0M644.68 640.10v-2.0M644.68 368.40v2.0M650.77 640.10v-2.0M650.77 368.40v2.0M655.75 640.10v-2.0M655.75 368.40v2.0M659.96 640.10v-2.0M659.96 368.40v2.0M663.61 640.10v-2.0M663.61 368.40v2.0M666.82 640.10v-2.0M666.82 368.40v2.0" stroke="#333" stroke-width="0.7" fill="none"/>
<path d="M405.50 637.20h3.5M682.40 637.20h-3.5M405.50 585.52h3.5M682.40 585.52h-3.5M405.50 533.84h3.5M682.40 533.84h-3.5M405.50 482.16h3.5M682.40 482.16h-3.5M405.50 430.48h3.5M682.40 430.48h-3.5M405.50 378.80h3.5M682.40 378.80h-3.5" stroke="#333" stroke-width="0.9" fill="none"/>
<text x="381.84" y="643.00" style="font-family:'Liberation Sans', sans-serif;font-size:15.5px" fill="#000" textLength="20.10" lengthAdjust="spacingAndGlyphs">0.0</text>
<text x="382.31" y="591.32" style="font-family:'Liberation Sans', sans-serif;font-size:15.5px" fill="#000" textLength="19.81" lengthAdjust="spacingAndGlyphs">0.2</text>
<text x="381.71" y="539.64" style="font-family:'Liberation Sans', sans-serif;font-size:15.5px" fill="#000" textLength="20.09" lengthAdjust="spacingAndGlyphs">0.4</text>
<text x="381.81" y="487.96" style="font-family:'Liberation Sans', sans-serif;font-size:15.5px" fill="#000" textLength="20.21" lengthAdjust="spacingAndGlyphs">0.6</text>
<text x="381.87" y="436.28" style="font-family:'Liberation Sans', sans-serif;font-size:15.5px" fill="#000" textLength="20.15" lengthAdjust="spacingAndGlyphs">0.8</text>
<text x="381.93" y="384.60" style="font-family:'Liberation Sans', sans-serif;font-size:15.5px" fill="#000" textLength="20.02" lengthAdjust="spacingAndGlyphs">1.0</text>
<text x="403.09" y="653.60" style="font-family:'Liberation Sans', sans-serif;font-size:15.5px" fill="#000" textLength="16.39" lengthAdjust="spacingAndGlyphs">10</text>
<text x="419.89" y="648.60" style="font-family:'Liberation Sans', sans-serif;font-size:10.8px" fill="#000" textLength="13.82" lengthAdjust="spacingAndGlyphs">−8</text>
<text x="465.97" y="653.60" style="font-family:'Liberation Sans', sans-serif;font-size:15.5px" fill="#000" textLength="16.39" lengthAdjust="spacingAndGlyphs">10</text>
<text x="482.76" y="648.60" style="font-family:'Liberation Sans', sans-serif;font-size:10.8px" fill="#000" textLength="13.92" lengthAdjust="spacingAndGlyphs">−7</text>
<text x="528.84" y="653.60" style="font-family:'Liberation Sans', sans-serif;font-size:15.5px" fill="#000" textLength="16.39" lengthAdjust="spacingAndGlyphs">10</text>
<text x="545.64" y="648.60" style="font-family:'Liberation Sans', sans-serif;font-size:10.8px" fill="#000" textLength="13.82" lengthAdjust="spacingAndGlyphs">−6</text>
<text x="591.72" y="653.60" style="font-family:'Liberation Sans', sans-serif;font-size:15.5px" fill="#000" textLength="16.39" lengthAdjust="spacingAndGlyphs">10</text>
<text x="608.52" y="648.60" style="font-family:'Liberation Sans', sans-serif;font-size:10.8px" fill="#000" textLength="13.79" lengthAdjust="spacingAndGlyphs">−5</text>
<text x="654.59" y="653.60" style="font-family:'Liberation Sans', sans-serif;font-size:15.5px" fill="#000" textLength="16.39" lengthAdjust="spacingAndGlyphs">10</text>
<text x="671.40" y="648.60" style="font-family:'Liberation Sans', sans-serif;font-size:10.8px" fill="#000" textLength="13.63" lengthAdjust="spacingAndGlyphs">−4</text>
<path d="M416.1 386.9H444.5" stroke="#000" stroke-width="2.5"/>
<circle cx="422.6" cy="407.6" r="4.2" fill="#FF1493"/>
<circle cx="438.0" cy="407.6" r="3.4" fill="#fff" stroke="#FF1493" stroke-width="1.3"/>
<text x="454.66" y="391.10" style="font-family:'Liberation Sans', sans-serif;font-size:15.5px" fill="#000" textLength="63.54" lengthAdjust="spacingAndGlyphs">Analytical</text>
<text x="453.60" y="411.90" style="font-family:'Liberation Sans', sans-serif;font-size:15.5px" fill="#000" textLength="32.00" lengthAdjust="spacingAndGlyphs">PINN</text>
<text x="517.45" y="677.30" style="font-family:'Liberation Sans', sans-serif;font-style:italic;font-size:22.4px" fill="#000" textLength="11.98" lengthAdjust="spacingAndGlyphs">L</text>
<text x="535.74" y="676.60" style="font-family:'Liberation Sans', sans-serif;font-size:20.8px" fill="#000" textLength="34.95" lengthAdjust="spacingAndGlyphs">(m)</text>
<text x="-0.35" y="0.00" style="font-family:'Liberation Sans', sans-serif;font-style:italic;font-size:23.0px" fill="#000" textLength="10.05" lengthAdjust="spacingAndGlyphs" transform="translate(369.00,543.70) rotate(-90)">k</text>
<text x="-0.71" y="0.00" style="font-family:'Liberation Sans', sans-serif;font-size:15.8px" fill="#000" textLength="18.19" lengthAdjust="spacingAndGlyphs" transform="translate(371.60,532.30) rotate(-90)">eff</text>
<path d="M372.3 513.7L351.8 506.2" stroke="#000" stroke-width="1.8"/>
<text x="-0.34" y="0.00" style="font-family:'Liberation Sans', sans-serif;font-style:italic;font-size:23.0px" fill="#000" textLength="9.76" lengthAdjust="spacingAndGlyphs" transform="translate(369.00,504.20) rotate(-90)">k</text>
<text x="-1.01" y="0.00" style="font-family:'Liberation Sans', sans-serif;font-size:15.8px" fill="#000" textLength="28.40" lengthAdjust="spacingAndGlyphs" transform="translate(371.60,493.00) rotate(-90)">bulk</text>
<text x="4.49" y="16.80" style="font-family:'Liberation Sans', sans-serif;font-weight:bold;font-size:23.5px" fill="#000" textLength="11.28" lengthAdjust="spacingAndGlyphs">a</text>
<text x="354.71" y="16.60" style="font-family:'Liberation Sans', sans-serif;font-weight:bold;font-size:22.5px" fill="#000" textLength="14.03" lengthAdjust="spacingAndGlyphs">b</text>
<text x="4.20" y="359.20" style="font-family:'Liberation Sans', sans-serif;font-weight:bold;font-size:23.5px" fill="#000" textLength="12.55" lengthAdjust="spacingAndGlyphs">c</text>
<text x="355.47" y="358.90" style="font-family:'Liberation Sans', sans-serif;font-weight:bold;font-size:22.5px" fill="#000" textLength="14.15" lengthAdjust="spacingAndGlyphs">d</text>
</svg></body></html>
